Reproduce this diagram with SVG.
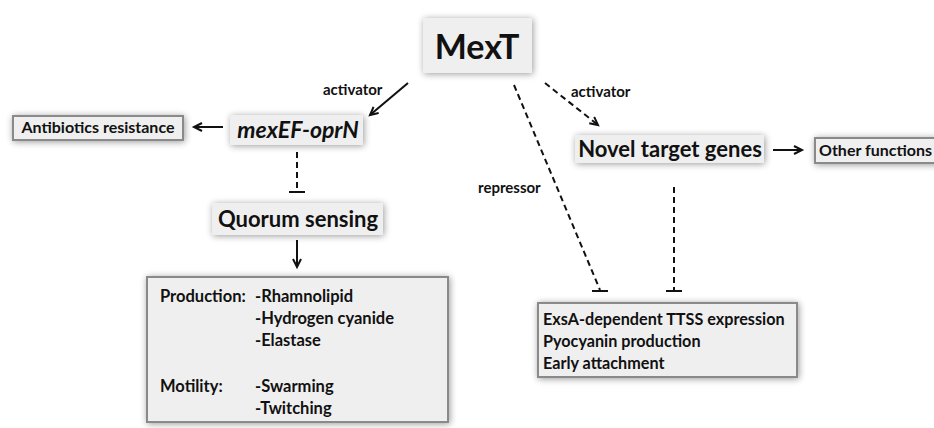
<svg xmlns="http://www.w3.org/2000/svg" width="934" height="428" viewBox="0 0 934 428">
<style>
.t{font-family:Lato,"Liberation Sans",sans-serif;font-weight:bold;fill:#111}
.box{fill:#efefef}
.bbox{fill:#efefef;stroke:#8a8a8a;stroke-width:2}
.ln{stroke:#111;stroke-width:2;fill:none}
.dash{stroke-dasharray:6 4}
.lbl{font-size:15px}
</style>
<defs>
<filter id="sh" x="-30%" y="-50%" width="160%" height="200%">
<feGaussianBlur in="SourceAlpha" stdDeviation="3.5"/>
<feOffset dx="1" dy="1"/>
<feComponentTransfer><feFuncA type="linear" slope="0.4"/></feComponentTransfer>
<feMerge><feMergeNode/><feMergeNode in="SourceGraphic"/></feMerge>
</filter>
<marker id="ar" markerWidth="12" markerHeight="12" refX="9" refY="5" orient="auto" markerUnits="userSpaceOnUse">
<path d="M1,1 L9,5 L1,9" fill="none" stroke="#111" stroke-width="2"/>
</marker>
</defs>
<rect width="934" height="428" fill="#fff"/>

<g id="mext">
<rect class="box" x="423" y="18" width="109" height="55" filter="url(#sh)"/>
<text class="t" x="477" y="59" font-size="34" text-anchor="middle">MexT</text>
</g>
<g id="mexef">
<rect class="box" x="230" y="115" width="133" height="30" filter="url(#sh)"/>
<text class="t" x="298" y="138" font-size="23" font-style="italic" text-anchor="middle">mexEF-oprN</text>
</g>
<g id="antibiotics">
<rect class="bbox" x="13" y="116" width="170" height="24" filter="url(#sh)"/>
<text class="t" x="98" y="133" font-size="16" text-anchor="middle">Antibiotics resistance</text>
</g>
<g id="quorum">
<rect class="box" x="212" y="203" width="171" height="32" filter="url(#sh)"/>
<text class="t" x="298" y="227" font-size="22" text-anchor="middle">Quorum sensing</text>
</g>
<g id="novel">
<rect class="box" x="575" y="135" width="189" height="28" filter="url(#sh)"/>
<text class="t" x="670" y="157" font-size="22" text-anchor="middle">Novel target genes</text>
</g>
<g id="other">
<rect class="bbox" x="815" y="138" width="125" height="25" filter="url(#sh)"/>
<text class="t" x="819" y="156" font-size="16">Other functions</text>
</g>
<g id="production">
<rect class="bbox" x="147" y="277" width="301" height="145" filter="url(#sh)"/>
<text class="t" font-size="16.5">
<tspan x="160" y="302">Production:</tspan>
<tspan x="255" y="302">-Rhamnolipid</tspan>
<tspan x="255" y="324">-Hydrogen cyanide</tspan>
<tspan x="255" y="346">-Elastase</tspan>
<tspan x="160" y="392">Motility:</tspan>
<tspan x="255" y="392">-Swarming</tspan>
<tspan x="255" y="414">-Twitching</tspan>
</text>
</g>
<g id="ttss">
<rect class="bbox" x="538" y="303" width="259" height="74" filter="url(#sh)"/>
<text class="t" font-size="16.2">
<tspan x="543" y="325">ExsA-dependent TTSS expression</tspan>
<tspan x="543" y="347">Pyocyanin production</tspan>
<tspan x="543" y="369">Early attachment</tspan>
</text>
</g>

<g id="connectors">
<line class="ln" x1="408" y1="83" x2="370" y2="115" marker-end="url(#ar)"/>
<line class="ln" x1="223" y1="127" x2="194" y2="127" marker-end="url(#ar)"/>
<line class="ln dash" x1="297" y1="152" x2="297" y2="191"/>
<line class="ln" x1="289" y1="192" x2="305" y2="192"/>
<line class="ln" x1="297" y1="240" x2="297" y2="267" marker-end="url(#ar)"/>
<line class="ln dash" x1="514" y1="85" x2="600" y2="290"/>
<line class="ln" x1="592" y1="291" x2="608" y2="291"/>
<line class="ln dash" x1="545" y1="83" x2="598" y2="125" marker-end="url(#ar)"/>
<line class="ln dash" x1="674" y1="187" x2="674" y2="290"/>
<line class="ln" x1="666" y1="291" x2="682" y2="291"/>
<line class="ln" x1="773" y1="150" x2="802" y2="150" marker-end="url(#ar)"/>
<text class="t lbl" x="323" y="95">activator</text>
<text class="t lbl" x="571" y="97">activator</text>
<text class="t lbl" x="478" y="193">repressor</text>
</g>
</svg>
